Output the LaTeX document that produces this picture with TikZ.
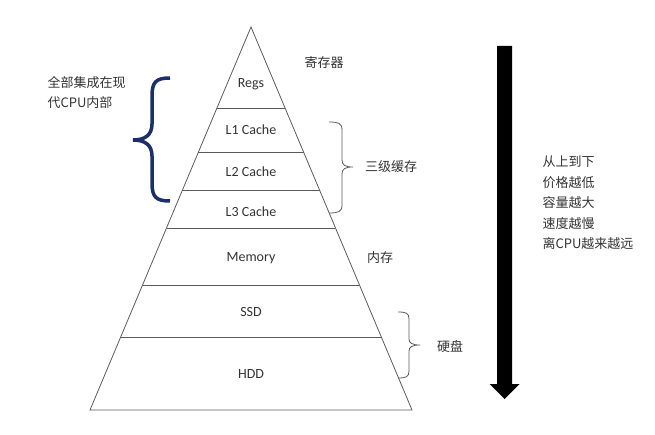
\documentclass[tikz,border=0pt]{standalone}
\usepackage{fontspec}
\setmainfont{Carlito}
\newfontfamily\cjk{Noto Sans CJK SC}
\usetikzlibrary{calc}
\definecolor{navybrace}{HTML}{1B2F6B}
\definecolor{edgegray}{HTML}{5A5A5A}
\definecolor{txtgray}{HTML}{333333}
\tikzset{
  layer/.style={font=\fontsize{14}{16}\selectfont, text=txtgray},
  side/.style={font=\cjk\fontsize{13}{20.5}\selectfont, text=txtgray},
  graybrace/.style={draw=edgegray, line width=0.8pt},
  cpubrace/.style={draw=navybrace, line width=3.5pt},
}
\begin{document}
\begin{tikzpicture}[x=1pt,y=-1pt]
\useasboundingbox (0,0) rectangle (655,435);
% pyramid outline
\coordinate (apex) at (251,27);
\coordinate (bl) at (90,410);
\coordinate (br) at (412,410);
\draw[edgegray, line width=0.8pt] (apex) -- (bl) -- (br) -- cycle;
% layer borders, cut at the two sides
\foreach \y in {108,152,190,228,285,337}
  \draw[edgegray, line width=0.8pt] ($(apex)!{(\y-27)/383}!(bl)$) -- ($(apex)!{(\y-27)/383}!(br)$);
% layer names
\node[layer] (regs) at (251,84) {Regs};
\node[layer] (lone) at (251,130) {L1 Cache};
\node[layer] (ltwo) at (251,172) {L2 Cache};
\node[layer] (lthree) at (251,212) {L3 Cache};
\node[layer] (memory) at (251,258) {Memory};
\node[layer] (ssd) at (251,312) {SSD};
\node[layer] (hdd) at (251,374) {HDD};
% right side labels
\node[side] (reglbl) at (324,63) {寄存器};
% brace for the three caches
\coordinate (cachetop) at (329,122);
\coordinate (cachetip) at (353,167);
\coordinate (cachebot) at (329,213);
\draw[graybrace] (cachetop) .. controls (338,122) and (342,123) .. (342,130) -- (342,160)
  .. controls (342,165) and (345,167) .. (cachetip) .. controls (345,167) and (342,169) .. (342,174)
  -- (342,205) .. controls (342,212) and (338,213) .. (cachebot);
\node[side] (cachelbl) at (391,167) {三级缓存};
\node[side] (memlbl) at (380,258) {内存};
% brace for the disks
\coordinate (disktop) at (398,312);
\coordinate (disktip) at (420,345);
\coordinate (diskbot) at (398,378);
\draw[graybrace] (disktop) .. controls (406,312) and (409,313) .. (409,319) -- (409,339)
  .. controls (409,343) and (412,345) .. (disktip) .. controls (412,345) and (409,347) .. (409,351)
  -- (409,371) .. controls (409,377) and (406,378) .. (diskbot);
\node[side] (disklbl) at (450,347) {硬盘};
% in-cpu brace
\coordinate (cputop) at (170,78);
\coordinate (cputip) at (133,140);
\coordinate (cpubot) at (170,201);
\draw[cpubrace] (cputop) .. controls (156,78) and (152,82) .. (152,96) -- (152,124)
  .. controls (152,135) and (145,140) .. (cputip) .. controls (145,140) and (152,145) .. (152,156)
  -- (152,183) .. controls (152,197) and (156,201) .. (cpubot);
\node[side, align=left, anchor=west] (cpulbl) at (44,92.5) {全部集成在现\\代CPU内部};
% big arrow
\coordinate (arrtop) at (504.5,46);
\coordinate (arrtip) at (504.5,399);
\fill ($(arrtop)+(-7.5,0)$) -- ($(arrtop)+(7.5,0)$) -- ($(arrtip)+(7.5,-15)$) -- ($(arrtip)+(15,-15)$)
  -- (arrtip) -- ($(arrtip)+(-15,-15)$) -- ($(arrtip)+(-7.5,-15)$) -- cycle;
\node[side, align=left, anchor=west] (trendlbl) at (539,203) {从上到下\\价格越低\\容量越大\\速度越慢\\离CPU越来越远};
\end{tikzpicture}
\end{document}
